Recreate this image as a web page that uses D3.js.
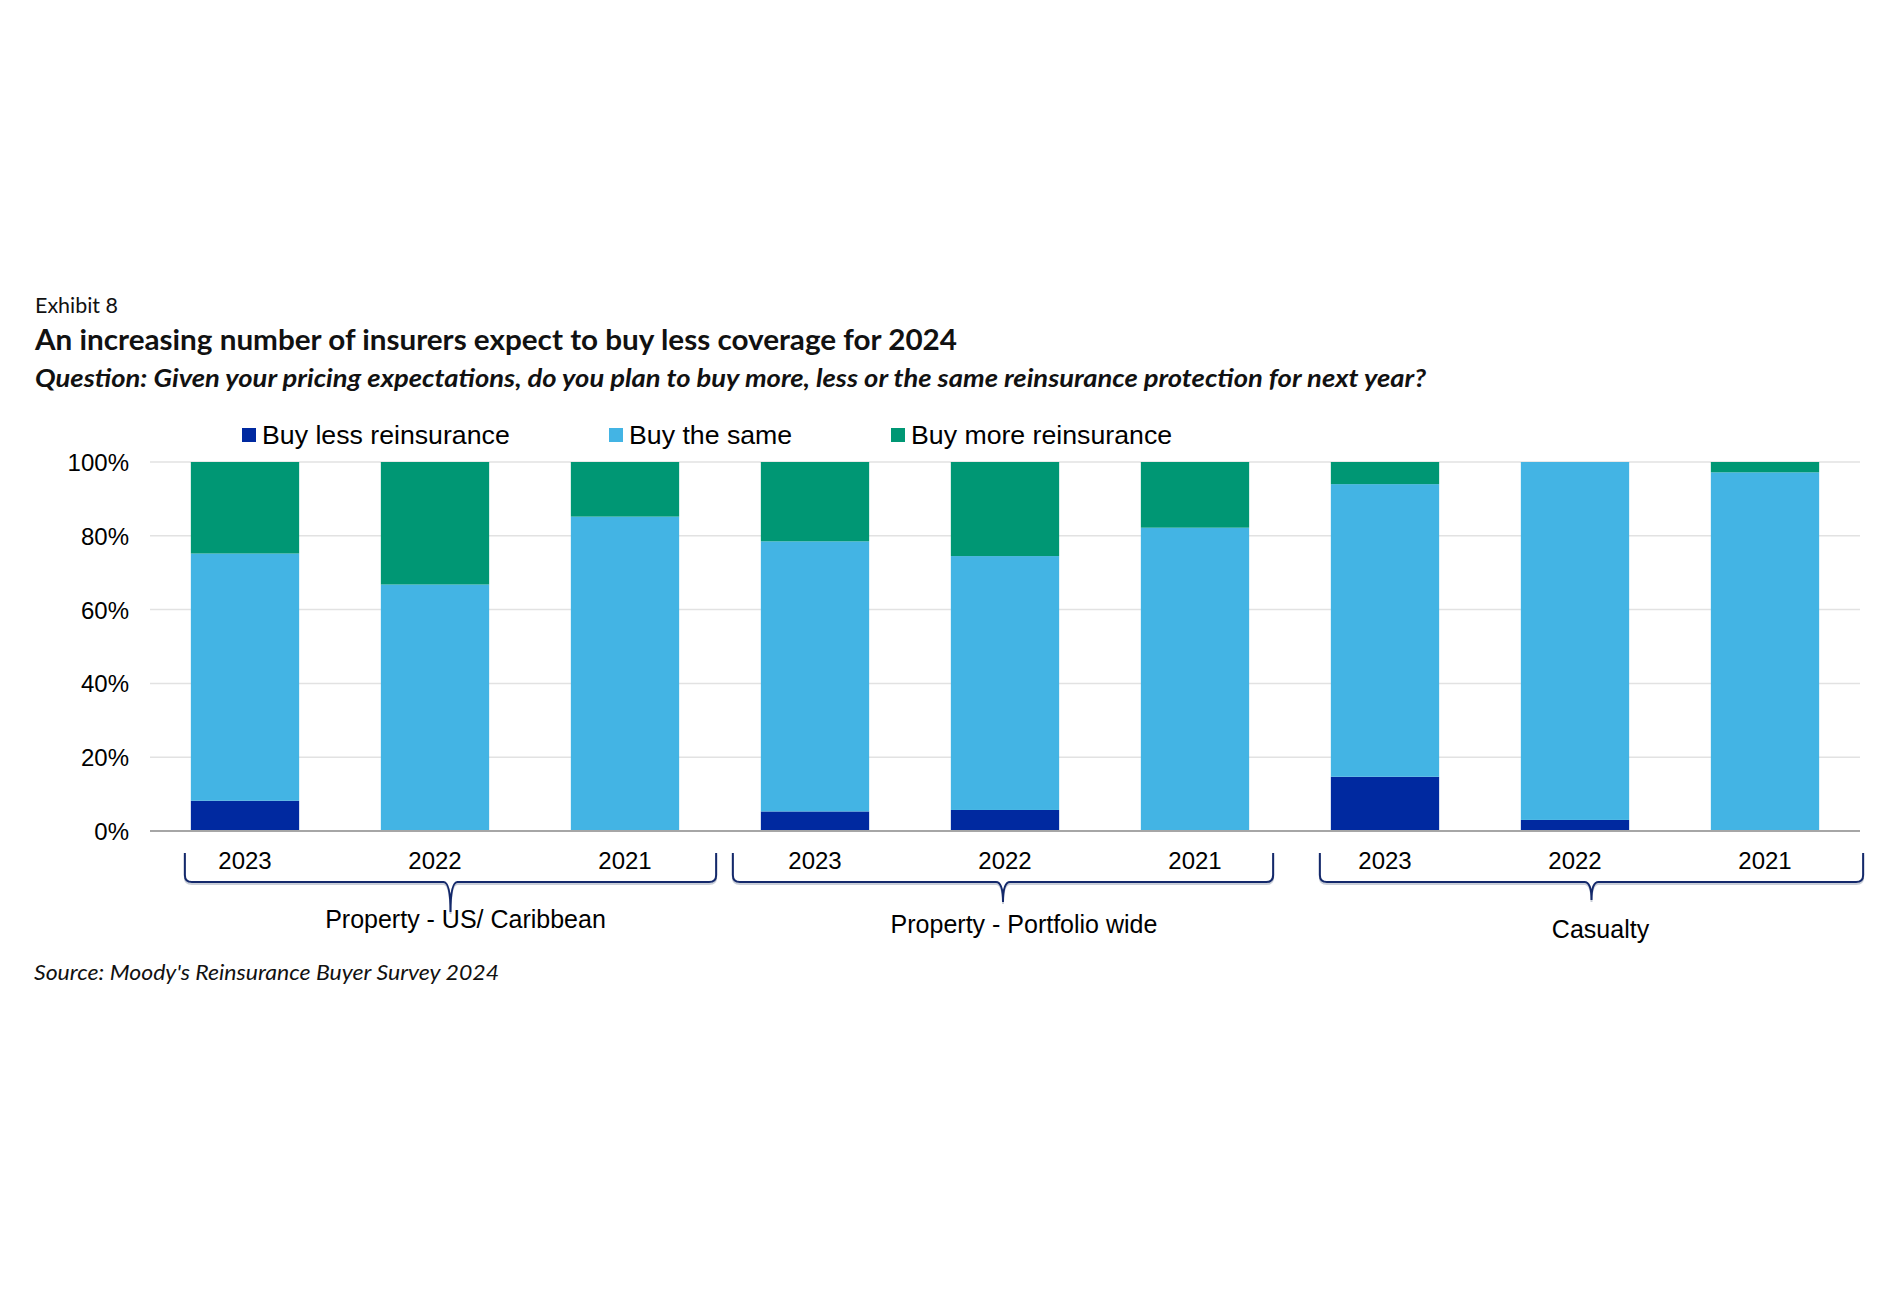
<!DOCTYPE html>
<html>
<head>
<meta charset="utf-8">
<script src="https://cdn.jsdelivr.net/npm/d3@7"></script>
<style>
  body { margin: 0; background: #fff; }
</style>
</head>
<body>
<script>
// data (percent of respondents)
const groups = ['Property - US/ Caribbean', 'Property - Portfolio wide', 'Casualty'];
const years = ['2023', '2022', '2021'];
const seriesNames = ['Buy less reinsurance', 'Buy the same', 'Buy more reinsurance'];
const buyLess = [8.2, 0, 0, 5.3, 5.7, 0, 14.7, 3.0, 0];
const buySame = [67.0, 66.8, 85.2, 73.2, 68.8, 82.2, 79.3, 97.0, 97.2];
const buyMore = [24.8, 33.2, 14.8, 21.5, 25.5, 17.8, 6.0, 0, 2.8];
const yTicks = [0, 20, 40, 60, 80, 100];

const W = 1900, H = 1300;
const margin = {top: 462, right: 40, bottom: 469, left: 150};
const colors = ['#0029a0', '#43b4e4', '#009774'];

// table for d3.stack
const rows = [];
groups.forEach((g, gi) => {
  years.forEach((yr, yi) => {
    const i = gi * years.length + yi;
    rows.push({key: g + '|' + yr, group: g, year: yr,
      less: buyLess[i], same: buySame[i], more: buyMore[i]});
  });
});
const keys = ['less', 'same', 'more'];

const svg = d3.select('body').append('svg')
  .attr('width', W).attr('height', H)
  .style('font-family', 'Liberation Sans, Arial, sans-serif');

const x = d3.scaleBand()
  .domain(rows.map(d => d.key))
  .range([margin.left, W - margin.right])
  .paddingInner(0.43)
  .paddingOuter(0.215);

const y = d3.scaleLinear()
  .domain([0, 100])
  .range([H - margin.bottom, margin.top]);

// titles
const serif = 'Lato, "Open Sans", sans-serif';
svg.append('text').attr('x', 35).attr('y', 313)
  .style('font-family', serif).style('font-size', '21px').attr('fill', '#111')
  .attr('textLength', 83).attr('lengthAdjust', 'spacingAndGlyphs')
  .text('Exhibit 8');
svg.append('text').attr('x', 35).attr('y', 350)
  .style('font-family', serif).style('font-size', '29px').style('font-weight', 700).attr('fill', '#111')
  .attr('textLength', 922).attr('lengthAdjust', 'spacingAndGlyphs')
  .text('An increasing number of insurers expect to buy less coverage for 2024');
svg.append('text').attr('x', 35).attr('y', 387)
  .style('font-family', serif).style('font-size', '24px').style('font-weight', 700)
  .style('font-style', 'italic').attr('fill', '#111')
  .attr('textLength', 1391).attr('lengthAdjust', 'spacingAndGlyphs')
  .text('Question: Given your pricing expectations, do you plan to buy more, less or the same reinsurance protection for next year?');

// gridlines
svg.append('g')
  .selectAll('line').data(yTicks.filter(t => t > 0)).join('line')
  .attr('x1', margin.left).attr('x2', W - margin.right)
  .attr('y1', d => y(d)).attr('y2', d => y(d))
  .attr('stroke', '#e2e2e2').attr('stroke-width', 1.5);

// y axis labels
const yAxis = svg.append('g')
  .attr('transform', `translate(${margin.left},0)`)
  .call(d3.axisLeft(y).tickValues(yTicks).tickFormat(d => d + '%').tickSize(0).tickPadding(21));
yAxis.select('.domain').remove();
yAxis.selectAll('text').style('font-size', '24px').style('font-family', 'Liberation Sans, Arial, sans-serif')
  .attr('fill', '#000').attr('dy', '0.35em');

// stacked bars
const stacked = d3.stack().keys(keys)(rows);
svg.append('g')
  .selectAll('g').data(stacked).join('g')
  .attr('fill', (d, i) => colors[i])
  .selectAll('rect').data(d => d).join('rect')
  .attr('x', d => x(d.data.key))
  .attr('width', x.bandwidth())
  .attr('y', d => y(d[1]))
  .attr('height', d => y(d[0]) - y(d[1]));

// base line
svg.append('line')
  .attr('x1', margin.left).attr('x2', W - margin.right)
  .attr('y1', y(0)).attr('y2', y(0))
  .attr('stroke', '#a6a6a6').attr('stroke-width', 2);

// year labels
svg.append('g')
  .attr('transform', `translate(0,${y(0)})`)
  .call(d3.axisBottom(x).tickFormat(k => k.split('|')[1]).tickSize(0).tickPadding(21))
  .call(g => g.select('.domain').remove())
  .selectAll('text')
  .style('font-size', '24px').style('font-family', 'Liberation Sans, Arial, sans-serif')
  .attr('fill', '#000');

// group braces
const braceLeftPad = [6, 28, 11];
const braceRightPad = [37, 24, 44];
const braceTipY = [912, 902, 900];
const labelShift = [15, 21, 9];
const labelY = [928, 933, 938];
const braceTop = 853, braceY = 882, r = 7;

groups.forEach((g, gi) => {
  const first = x(g + '|' + years[0]);
  const last = x(g + '|' + years[years.length - 1]) + x.bandwidth();
  const L = first - braceLeftPad[gi];
  const R = last + braceRightPad[gi];
  const T = (L + R) / 2;
  const p = `M${L},${braceTop} L${L},${braceY - r} Q${L},${braceY} ${L + r},${braceY}` +
    ` L${T - r},${braceY} Q${T},${braceY} ${T},${braceTipY[gi]}` +
    ` M${T},${braceTipY[gi]} Q${T},${braceY} ${T + r},${braceY}` +
    ` L${R - r},${braceY} Q${R},${braceY} ${R},${braceY - r} L${R},${braceTop}`;
  svg.append('path').attr('d', p).attr('transform', 'translate(0,2)')
    .attr('fill', 'none').attr('stroke', '#c9ced8').attr('stroke-width', 2);
  svg.append('path').attr('d', p)
    .attr('fill', 'none').attr('stroke', '#14296b').attr('stroke-width', 2);
  svg.append('text')
    .attr('x', T + labelShift[gi]).attr('y', labelY[gi])
    .attr('text-anchor', 'middle')
    .style('font-size', '25px').attr('fill', '#000')
    .text(g);
});

// legend
const legendX = [242, 609, 891];
const legend = svg.append('g');
seriesNames.forEach((s, i) => {
  legend.append('rect').attr('x', legendX[i]).attr('y', 428)
    .attr('width', 14).attr('height', 14).attr('fill', colors[i]);
  legend.append('text').attr('x', legendX[i] + 20).attr('y', 444)
    .style('font-size', '26.7px').attr('fill', '#000').text(s);
});

// source
svg.append('text').attr('x', 34).attr('y', 980)
  .style('font-family', serif).style('font-size', '22px').style('font-style', 'italic').attr('fill', '#111')
  .attr('textLength', 465).attr('lengthAdjust', 'spacingAndGlyphs')
  .text("Source: Moody's Reinsurance Buyer Survey 2024");
</script>
</body>
</html>
